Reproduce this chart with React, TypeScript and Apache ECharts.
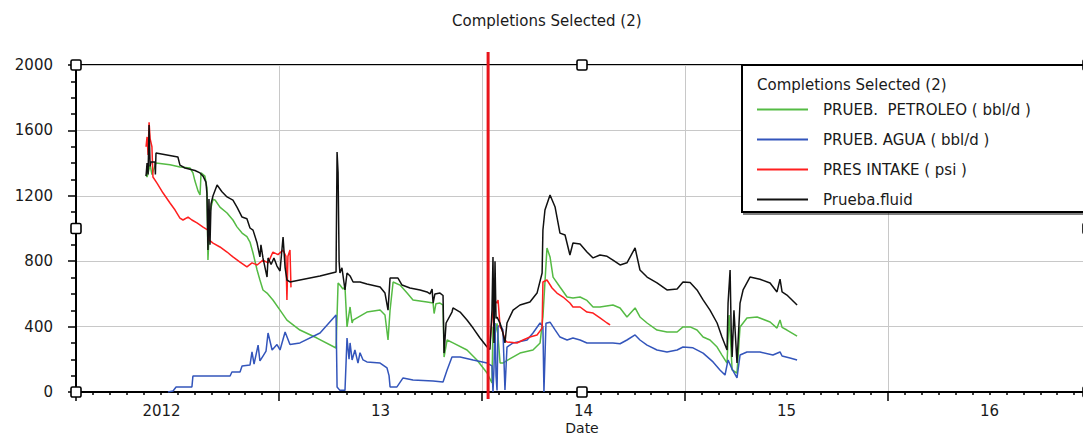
import React, { useEffect, useRef } from 'react';
import * as echarts from 'echarts';

const chartTitle = 'Completions Selected (2)';
const legendTitle = 'Completions Selected (2)';
const seriesNames = ['PRUEB.  PETROLEO ( bbl/d )', 'PRUEB. AGUA ( bbl/d )', 'PRES INTAKE ( psi )', 'Prueba.fluid'];
const seriesColors = ['#55bb44', '#3355bb', '#ff1f1f', '#111111'];
const yearLabels = ['2012', '13', '14', '15', '16'];
const xMin = 2012;
const xMax = 2016.985;
const yMin = 0;
const yMax = 2000;
const yInterval = 400;
const selectionDate = 2014.03;

const petroleo: [number, number][] = [
  [2012.345, 1330], [2012.350, 1315], [2012.365, 1390], [2012.374, 1330], [2012.394, 1400], [2012.463, 1390],
  [2012.512, 1376], [2012.562, 1370], [2012.576, 1340], [2012.586, 1290], [2012.601, 1230], [2012.611, 1205],
  [2012.616, 1340], [2012.635, 1320], [2012.645, 1250], [2012.650, 807], [2012.660, 1100], [2012.675, 1180],
  [2012.685, 1174], [2012.709, 1131], [2012.744, 1095], [2012.773, 1052], [2012.793, 1010], [2012.818, 972],
  [2012.842, 950], [2012.857, 917], [2012.872, 850], [2012.892, 746], [2012.906, 685], [2012.921, 624],
  [2012.941, 605], [2012.970, 563], [2013.005, 501], [2013.039, 440], [2013.103, 379], [2013.187, 330],
  [2013.281, 269], [2013.291, 667], [2013.300, 654], [2013.315, 630], [2013.325, 642], [2013.335, 398],
  [2013.350, 520], [2013.360, 422], [2013.365, 440], [2013.433, 489], [2013.498, 501], [2013.522, 471],
  [2013.537, 318], [2013.547, 500], [2013.562, 673], [2013.596, 654], [2013.631, 605], [2013.660, 563],
  [2013.729, 550], [2013.759, 544], [2013.764, 480], [2013.773, 540], [2013.793, 544], [2013.808, 532],
  [2013.813, 214], [2013.828, 318], [2013.857, 300], [2013.926, 257], [2013.975, 196], [2014.025, 116],
  [2014.049, 55], [2014.054, 398], [2014.064, 350], [2014.074, 420], [2014.089, 177], [2014.103, 177],
  [2014.128, 196], [2014.187, 238], [2014.251, 257], [2014.286, 300], [2014.300, 459], [2014.320, 881],
  [2014.335, 826], [2014.350, 703], [2014.384, 642], [2014.419, 581], [2014.448, 575], [2014.483, 581],
  [2014.517, 560], [2014.547, 520], [2014.581, 520], [2014.645, 532], [2014.680, 514], [2014.714, 459],
  [2014.754, 514], [2014.778, 459], [2014.813, 422], [2014.862, 379], [2014.911, 367], [2014.961, 367],
  [2014.990, 398], [2015.025, 398], [2015.059, 379], [2015.089, 336], [2015.123, 318], [2015.158, 275],
  [2015.182, 226], [2015.207, 177], [2015.217, 471], [2015.227, 250], [2015.232, 135], [2015.256, 116],
  [2015.271, 398], [2015.305, 453], [2015.355, 459], [2015.419, 428], [2015.453, 391], [2015.468, 440],
  [2015.478, 395], [2015.502, 379], [2015.552, 342],
];

const agua: [number, number][] = [
  [2012.453, 0], [2012.478, 6], [2012.493, 31], [2012.571, 31], [2012.576, 98], [2012.759, 98],
  [2012.768, 122], [2012.808, 122], [2012.818, 159], [2012.857, 165], [2012.867, 245], [2012.877, 170],
  [2012.897, 287], [2012.906, 190], [2012.921, 220], [2012.936, 250], [2012.946, 361], [2012.966, 257],
  [2012.990, 290], [2013.005, 257], [2013.030, 367], [2013.054, 290], [2013.103, 300], [2013.202, 361],
  [2013.281, 471], [2013.286, 31], [2013.300, 10], [2013.325, 10], [2013.335, 330], [2013.345, 200],
  [2013.350, 300], [2013.360, 196], [2013.374, 257], [2013.389, 177], [2013.399, 240], [2013.414, 196],
  [2013.433, 184], [2013.498, 177], [2013.532, 147], [2013.542, 100], [2013.547, 31], [2013.581, 31],
  [2013.611, 86], [2013.660, 73], [2013.759, 67], [2013.808, 61], [2013.828, 135], [2013.852, 214],
  [2013.892, 214], [2013.956, 196], [2014.025, 177], [2014.049, 160], [2014.054, 0], [2014.059, 150],
  [2014.064, 422], [2014.069, 100], [2014.074, 10], [2014.079, 400], [2014.089, 410], [2014.103, 380],
  [2014.113, 12], [2014.123, 275], [2014.153, 300], [2014.222, 318], [2014.251, 361], [2014.286, 422],
  [2014.300, 400], [2014.305, 0], [2014.315, 420], [2014.335, 427], [2014.360, 380], [2014.384, 336],
  [2014.419, 318], [2014.448, 330], [2014.483, 318], [2014.517, 300], [2014.581, 300], [2014.645, 300],
  [2014.680, 295], [2014.714, 318], [2014.754, 349], [2014.778, 318], [2014.813, 287], [2014.862, 257],
  [2014.911, 245], [2014.961, 257], [2014.990, 275], [2015.039, 270], [2015.089, 238], [2015.138, 184],
  [2015.172, 135], [2015.197, 104], [2015.212, 196], [2015.232, 140], [2015.256, 86], [2015.271, 226],
  [2015.305, 245], [2015.369, 245], [2015.433, 226], [2015.468, 245], [2015.478, 220], [2015.517, 208],
  [2015.552, 196],
];

const presIntake: [number, number | null][] = [
  [2012.345, 1500], [2012.350, 1560], [2012.355, 1450], [2012.360, 1650], [2012.365, 1550], [2012.374, 1500],
  [2012.379, 1315], [2012.399, 1278], [2012.429, 1217], [2012.463, 1156], [2012.488, 1113], [2012.512, 1064],
  [2012.527, 1052], [2012.552, 1070], [2012.571, 1052], [2012.596, 1034], [2012.626, 1009], [2012.650, 990],
  [2012.655, 930], [2012.675, 911], [2012.709, 887], [2012.744, 856], [2012.773, 826], [2012.808, 795],
  [2012.842, 765], [2012.867, 790], [2012.892, 777], [2012.921, 807], [2012.946, 790], [2012.970, 856],
  [2012.995, 840], [2013.020, 868], [2013.034, 830], [2013.039, 563], [2013.044, 830], [2013.054, 868],
  [2013.059, 640], [2013.5, null],
  [2014.039, 300], [2014.049, 440], [2014.059, 560], [2014.074, 544], [2014.079, 563], [2014.089, 398],
  [2014.099, 379], [2014.113, 318], [2014.123, 306], [2014.172, 300], [2014.202, 318], [2014.236, 336],
  [2014.271, 349], [2014.296, 391], [2014.300, 673], [2014.320, 685], [2014.345, 636], [2014.369, 605],
  [2014.399, 581], [2014.433, 544], [2014.448, 520], [2014.483, 520], [2014.517, 489], [2014.547, 483],
  [2014.581, 453], [2014.616, 422], [2014.631, 410],
];

const fluid: [number, number][] = [
  [2012.345, 1320], [2012.350, 1400], [2012.355, 1330], [2012.360, 1633], [2012.365, 1380], [2012.369, 1407],
  [2012.389, 1407], [2012.391, 1330], [2012.394, 1462], [2012.502, 1437], [2012.512, 1388], [2012.537, 1370],
  [2012.586, 1355], [2012.611, 1340], [2012.626, 1320], [2012.640, 1284], [2012.645, 1215], [2012.650, 868],
  [2012.655, 1180], [2012.660, 900], [2012.665, 1150], [2012.675, 1200], [2012.695, 1266], [2012.719, 1225],
  [2012.744, 1193], [2012.773, 1174], [2012.793, 1131], [2012.818, 1070], [2012.842, 1060], [2012.857, 1003],
  [2012.872, 990], [2012.892, 911], [2012.906, 826], [2012.911, 900], [2012.921, 820], [2012.941, 703],
  [2012.946, 820], [2012.961, 780], [2012.975, 820], [2012.990, 770], [2013.005, 740], [2013.020, 948],
  [2013.030, 760], [2013.039, 685], [2013.054, 673], [2013.103, 685], [2013.202, 709], [2013.281, 734],
  [2013.286, 1468], [2013.291, 1340], [2013.296, 800], [2013.300, 728], [2013.310, 760], [2013.325, 624],
  [2013.335, 728], [2013.350, 710], [2013.365, 673], [2013.399, 673], [2013.433, 660], [2013.498, 642],
  [2013.522, 605], [2013.537, 501], [2013.547, 697], [2013.586, 697], [2013.606, 654], [2013.645, 636],
  [2013.695, 624], [2013.729, 612], [2013.744, 600], [2013.754, 630], [2013.759, 544], [2013.768, 600],
  [2013.793, 605], [2013.808, 590], [2013.813, 238], [2013.823, 422], [2013.852, 489], [2013.857, 514],
  [2013.892, 489], [2013.926, 440], [2013.956, 391], [2013.990, 330], [2014.025, 275], [2014.039, 260],
  [2014.049, 500], [2014.054, 826], [2014.059, 300], [2014.064, 800], [2014.069, 450], [2014.074, 459],
  [2014.089, 420], [2014.103, 361], [2014.113, 300], [2014.123, 422], [2014.153, 501], [2014.187, 532],
  [2014.236, 550], [2014.271, 605], [2014.296, 728], [2014.300, 991], [2014.310, 1113], [2014.335, 1205],
  [2014.360, 1131], [2014.384, 972], [2014.409, 960], [2014.433, 838], [2014.448, 911], [2014.483, 905],
  [2014.517, 856], [2014.547, 820], [2014.581, 838], [2014.616, 830], [2014.645, 807], [2014.680, 777],
  [2014.714, 790], [2014.754, 881], [2014.778, 746], [2014.813, 703], [2014.862, 667], [2014.911, 624],
  [2014.961, 630], [2014.990, 673], [2015.025, 670], [2015.059, 624], [2015.089, 563], [2015.123, 501],
  [2015.158, 422], [2015.182, 336], [2015.207, 257], [2015.212, 544], [2015.222, 746], [2015.227, 400],
  [2015.232, 214], [2015.241, 500], [2015.256, 177], [2015.271, 544], [2015.286, 624], [2015.320, 703],
  [2015.369, 690], [2015.419, 667], [2015.453, 612], [2015.468, 690], [2015.478, 612], [2015.502, 593],
  [2015.527, 563], [2015.552, 532],
];

const seriesData = [petroleo, agua, presIntake, fluid];

export default function App() {
  const ref = useRef<HTMLDivElement>(null);

  useEffect(() => {
    const el = ref.current;
    if (!el) return;
    const chart = echarts.init(el, null, { renderer: 'svg' });
    const font = 'DejaVu Sans';
    const textColor = '#1a1a1a';
    const gridLeft = 76;
    const gridTop = 65;
    const gridWidth = 1012;
    const gridHeight = 327;

    const option: any = {
      animation: false,
      backgroundColor: '#ffffff',
      title: {
        text: chartTitle,
        left: 452,
        top: 13,
        padding: 0,
        textStyle: { fontFamily: font, fontSize: 15, fontWeight: 'normal', color: textColor },
      },
      legend: {
        data: seriesNames,
        orient: 'vertical',
        left: 757,
        top: 102,
        padding: 0,
        itemWidth: 51,
        itemHeight: 14,
        itemGap: 15,
        icon: 'path://M0,0H51V2H0Z',
        selectedMode: false,
        z: 20,
        textStyle: { fontFamily: font, fontSize: 15, color: textColor, padding: [0, 0, 0, 10] },
      },
      grid: {
        left: gridLeft,
        top: gridTop,
        width: gridWidth,
        height: gridHeight,
        show: true,
        borderColor: '#000',
        borderWidth: 2,
        containLabel: false,
        outerBoundsMode: 'none',
      },
      xAxis: [
        {
          type: 'value',
          position: 'bottom',
          min: xMin,
          max: xMax,
          interval: 1,
          axisLine: { show: true, lineStyle: { color: '#000', width: 2 } },
          axisTick: { show: true, length: 9, lineStyle: { color: '#000', width: 1.5 } },
          minorTick: { show: true, splitNumber: 12, length: 3, lineStyle: { color: '#000', width: 1.5 } },
          splitLine: { show: true, lineStyle: { color: '#c8c8c8', width: 1 } },
          axisLabel: { show: false },
          name: 'Date',
          nameLocation: 'middle',
          nameGap: 29,
          nameTextStyle: { fontFamily: font, fontSize: 14, color: textColor },
        },
        {
          type: 'value',
          position: 'bottom',
          min: xMin,
          max: xMax,
          interval: 0.5,
          axisLine: { show: false },
          axisTick: { show: false },
          splitLine: { show: false },
          axisLabel: {
            margin: 11,
            fontFamily: font,
            fontSize: 15,
            color: textColor,
            rich: {
              first: { fontFamily: font, fontSize: 15, color: textColor, padding: [0, 32, 0, 0] },
            },
            formatter: (v: number) => {
              const frac = v - Math.floor(v);
              if (Math.abs(frac - 0.5) > 1e-6) return '';
              const idx = Math.floor(v) - xMin;
              const label = yearLabels[idx] ?? '';
              return idx === 0 ? `{first|${label}}` : label;
            },
          },
        },
      ],
      yAxis: {
        type: 'value',
        min: yMin,
        max: yMax,
        interval: yInterval,
        axisLine: { show: true, lineStyle: { color: '#000', width: 2 } },
        axisTick: { show: true, length: 8, lineStyle: { color: '#000', width: 1.5 } },
        minorTick: { show: true, splitNumber: 4, length: 5, lineStyle: { color: '#000', width: 1.5 } },
        splitLine: { show: true, lineStyle: { color: '#c8c8c8', width: 1 } },
        axisLabel: {
          margin: 23,
          fontFamily: font,
          fontSize: 15,
          color: textColor,
          formatter: (v: number) => String(v),
        },
      },
      series: seriesNames.map((name, i) => ({
        name,
        type: 'line',
        xAxisIndex: 0,
        yAxisIndex: 0,
        data: seriesData[i],
        showSymbol: false,
        symbol: 'none',
        connectNulls: false,
        color: seriesColors[i],
        itemStyle: { color: seriesColors[i] },
        lineStyle: { color: seriesColors[i], width: 1.5 },
        emphasis: { disabled: true },
        z: 2 + i * 0.1,
      })),
    };

    chart.setOption(option);

    const sx = chart.convertToPixel({ xAxisIndex: 0 }, selectionDate) as number;
    const hxs = [gridLeft, gridLeft + gridWidth / 2, gridLeft + gridWidth];
    const hys = [gridTop, gridTop + gridHeight / 2, gridTop + gridHeight];
    const handles: any[] = [];
    hxs.forEach((hx, ix) => {
      hys.forEach((hy, iy) => {
        if (ix === 1 && iy === 1) return;
        handles.push({
          type: 'rect',
          z: 30,
          shape: { x: hx - 5, y: hy - 5, width: 10, height: 10, r: 1.5 },
          style: { fill: '#ffffff', stroke: '#000000', lineWidth: 1.6 },
        });
      });
    });

    chart.setOption({
      graphic: [
        {
          type: 'line',
          z: 8,
          shape: { x1: sx, y1: gridTop - 13, x2: sx, y2: gridTop + gridHeight + 7 },
          style: { stroke: '#e8141b', lineWidth: 3 },
        },
        {
          type: 'rect',
          z: 10,
          shape: { x: 742, y: 65, width: 360, height: 147 },
          style: {
            fill: '#ffffff',
            stroke: '#000000',
            lineWidth: 2,
            shadowColor: 'rgba(0,0,0,0.5)',
            shadowOffsetX: 2,
            shadowOffsetY: 2,
            shadowBlur: 1,
          },
        },
        {
          type: 'text',
          z: 11,
          x: 757,
          y: 85,
          style: {
            text: legendTitle,
            fontFamily: font,
            fontSize: 15,
            fill: textColor,
            verticalAlign: 'middle',
            align: 'left',
          },
        },
        ...handles,
      ],
    });

    return () => {
      chart.dispose();
    };
  }, []);

  return (
    <div
      ref={ref}
      style={{ position: 'fixed', left: 0, top: 0, width: 1083, height: 437, background: '#fff' }}
    />
  );
}
